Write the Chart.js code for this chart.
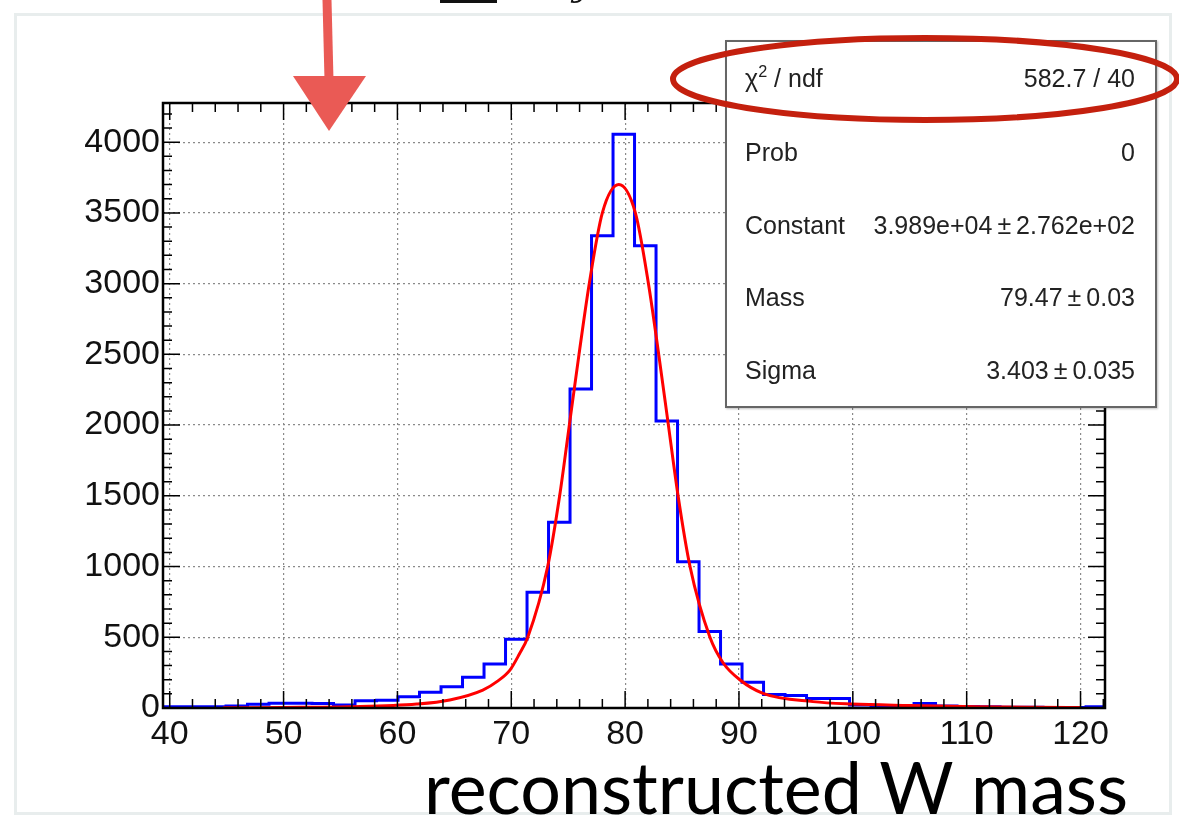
<!DOCTYPE html>
<html>
<head>
<meta charset="utf-8">
<script src="https://cdn.jsdelivr.net/npm/chart.js@4.4.1/dist/chart.umd.min.js"></script>
<style>
  html, body { margin: 0; padding: 0; background: #fff; }
  #wrap { position: relative; width: 1179px; height: 816px; overflow: hidden; background: #fff; }
  #panel { position: absolute; left: 14px; top: 13px; width: 1152px; height: 796px;
           border: 3px solid #e8eded; background: #fff; }
  #c { position: absolute; left: 0; top: 0; }
  #stats { position: absolute; left: 725px; top: 40px; width: 428px; height: 364px;
           border: 2px solid #666; background: #fff; box-shadow: 1px 1px 2px rgba(0,0,0,0.25);
           font-family: "Liberation Sans", Arial, Helvetica, sans-serif; font-size: 25px; color: #222; }
  .row { position: absolute; left: 18px; right: 20px; height: 30px; line-height: 30px;
         display: flex; justify-content: space-between; white-space: nowrap; }
  .row sup { font-size: 65%; line-height: 0; vertical-align: 0.6em; }
  #title { position: absolute; top: 751px; right: 51px; white-space: nowrap;
           font-family: Lato, "Open Sans", sans-serif; color: #000; line-height: 1; }
  svg { position: absolute; left: 0; top: 0; pointer-events: none; }
</style>
</head>
<body>
<div id="wrap">
  <div id="panel"></div>
  <canvas id="c" width="1179" height="816" style="width:1179px;height:816px"></canvas>
  <div id="stats"></div>
  <div id="title">reconstructed W mass</div>
  <svg width="1179" height="816" viewBox="0 0 1179 816">
    <rect x="440" y="0" width="57" height="3" fill="#111"/>
    <text x="572" y="-4" font-family="DejaVu Serif" font-style="italic" font-size="34" fill="#111">y</text>
    <ellipse cx="925" cy="79" rx="252" ry="41" fill="none" stroke="#c4200e" stroke-width="6"/>
    <path d="M327 0 L329 80" stroke="#ea5a55" stroke-width="9" fill="none"/>
    <polygon points="293,76 366,76 329,131" fill="#ea5a55"/>
  </svg>
</div>
<script>
// histogram binning + contents
const binStart = 39.28;
const binWidth = 1.8885;
const counts = [9, 9, 9, 15, 26, 33, 33, 31, 21, 52, 55, 80, 111, 151, 217, 311, 486, 818,
                1313, 2255, 3339, 4056, 3268, 2029, 1034, 540, 311, 182, 95, 88, 68, 68,
                22, 15, 6, 32, 14, 10, 8, 6, 5, 4, 3, 9];

// fitted curve
const fitX = [44.7, 50, 55.8, 61.7, 64.6, 67.5, 68.8, 69.9, 70.7, 71.45, 73.2, 74.25, 75.1, 75.95, 76.85, 78.0,
              79.45, 80.9, 82.05, 82.95, 83.8, 84.65, 85.7, 87.45, 88.6, 90.1, 92.1, 96.5, 99.9, 105, 110.9, 116, 120];
const fitY = [2, 4, 9, 28, 57, 127, 190, 270, 380, 500, 1000, 1500, 2000, 2500, 3000, 3500,
              3700, 3500, 3000, 2500, 2000, 1500, 1000, 500, 320, 198, 104, 45, 28, 18, 9, 5, 3];

const xTicks = [40, 50, 60, 70, 80, 90, 100, 110, 120];
const yTicks = [0, 500, 1000, 1500, 2000, 2500, 3000, 3500, 4000];
const xMin = 39.41, xMax = 122.15;
const yMin = 0, yMax = 4277;

const statLabels = ['χ<sup>2</sup> / ndf', 'Prob', 'Constant', 'Mass', 'Sigma'];
const statValues = ['582.7 / 40', '0', '3.989e+04\u2009±\u20092.762e+02', '79.47\u2009±\u20090.03', '3.403\u2009±\u20090.035'];

// stats box
const statsBox = document.getElementById('stats');
const rowTops = [21, 95, 168, 240, 313];
statLabels.forEach((lab, i) => {
    const r = document.createElement('div');
    r.className = 'row';
    r.style.top = rowTops[i] + 'px';
    r.innerHTML = '<span>' + lab + '</span><span>' + statValues[i] + '</span>';
    statsBox.appendChild(r);
});

// fit the big title to its width in the picture
const title = document.getElementById('title');
const mc = document.createElement('canvas').getContext('2d');
mc.font = '100px Lato';
const tw = mc.measureText(title.textContent).width;
title.style.fontSize = (100 * 706 / tw).toFixed(1) + 'px';

// point at each bin's low edge; 'before' draws the flat part at the previous point's height
const histPoints = counts.map((v, i) => ({ x: binStart + i * binWidth, y: v }));
histPoints.push({ x: binStart + counts.length * binWidth, y: counts[counts.length - 1] });
const fitPoints = fitX.map((x, i) => ({ x: x, y: fitY[i] }));

// ROOT style frame with inner ticks on all four sides
const frameTicks = {
    id: 'frameTicks',
    afterDatasetsDraw(chart) {
        const { ctx, chartArea: a, scales: { x, y } } = chart;
        ctx.save();
        ctx.strokeStyle = '#000';
        ctx.lineWidth = 1.5;
        ctx.beginPath();
        for (let v = 40; v <= xMax; v += 2) {
            const px = x.getPixelForValue(v);
            const len = v % 10 === 0 ? 17 : 9;
            ctx.moveTo(px, a.bottom); ctx.lineTo(px, a.bottom - len);
            ctx.moveTo(px, a.top); ctx.lineTo(px, a.top + len);
        }
        for (let v = 0; v <= yMax; v += 100) {
            const py = y.getPixelForValue(v);
            const len = v % 500 === 0 ? 17 : 9;
            ctx.moveTo(a.left, py); ctx.lineTo(a.left + len, py);
            ctx.moveTo(a.right, py); ctx.lineTo(a.right - len, py);
        }
        ctx.stroke();
        ctx.lineWidth = 2.5;
        ctx.strokeRect(a.left, a.top, a.right - a.left, a.bottom - a.top);
        ctx.restore();
    }
};

const tickFont = { family: '"Liberation Sans", Arial, Helvetica, sans-serif', size: 34 };

new Chart(document.getElementById('c'), {
    type: 'line',
    data: {
        datasets: [
            {
                label: 'fit',
                data: fitPoints,
                borderColor: '#ff0000',
                borderWidth: 3,
                pointRadius: 0,
                cubicInterpolationMode: 'monotone',
                fill: false
            },
            {
                label: 'W mass',
                data: histPoints,
                stepped: 'before',
                borderColor: '#0000ff',
                borderWidth: 3,
                pointRadius: 0,
                fill: false
            }
        ]
    },
    options: {
        responsive: false,
        animation: false,
        devicePixelRatio: 1,
        layout: { padding: { left: 0, top: 103, right: 74, bottom: 0 } },
        plugins: {
            legend: { display: false },
            tooltip: { enabled: false }
        },
        scales: {
            x: {
                type: 'linear',
                min: xMin,
                max: xMax,
                afterBuildTicks: s => { s.ticks = xTicks.map(v => ({ value: v })); },
                afterFit: s => { s.height = 108; },
                grid: { color: '#8a8a8a', lineWidth: 1.2, drawTicks: false },
                border: { display: false, dash: [2, 3] },
                ticks: { font: tickFont, color: '#111', padding: 6, maxRotation: 0, autoSkip: false,
                         callback: v => String(v) }
            },
            y: {
                type: 'linear',
                min: yMin,
                max: yMax,
                afterBuildTicks: s => { s.ticks = yTicks.map(v => ({ value: v })); },
                afterFit: s => { s.width = 163; },
                grid: { color: '#8a8a8a', lineWidth: 1.2, drawTicks: false },
                border: { display: false, dash: [2, 3] },
                ticks: { font: tickFont, color: '#111', padding: 3, autoSkip: false,
                         callback: v => String(v) }
            }
        }
    },
    plugins: [frameTicks]
});
</script>
</body>
</html>
